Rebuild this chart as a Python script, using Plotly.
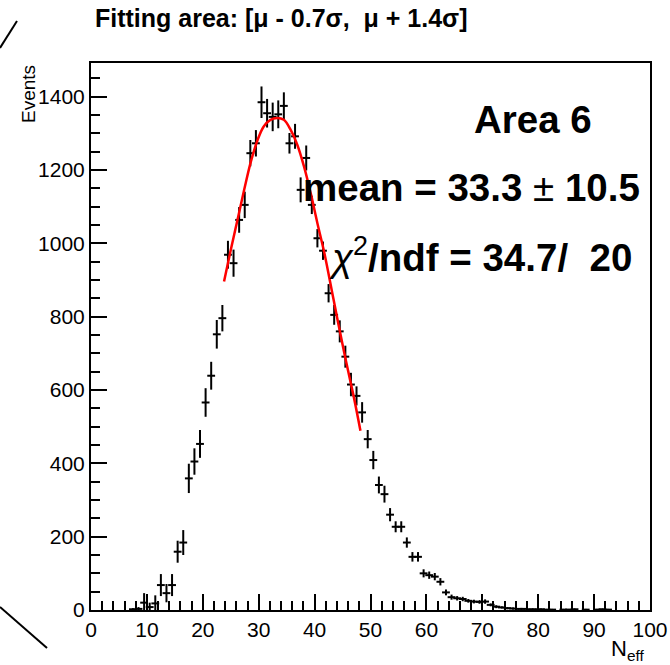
import plotly.graph_objects as go

# ---------------- data ----------------
bin_centers = [7.5, 8.5, 9.5, 10.5, 11.5, 12.5, 13.5, 14.5, 15.5, 16.5,
               17.5, 18.5, 19.5, 20.5, 21.5, 22.5, 23.5, 24.5, 25.5, 26.5,
               27.5, 28.5, 29.5, 30.5, 31.5, 32.5, 33.5, 34.5, 35.5, 36.5,
               37.5, 38.5, 39.5, 40.5, 41.5, 42.5, 43.5, 44.5, 45.5, 46.5,
               47.5, 48.5, 49.5, 50.5, 51.5, 52.5, 53.5, 54.5, 55.5, 56.5,
               57.5, 58.5, 59.5, 60.5, 61.5, 62.5, 63.5, 64.5, 65.5, 66.5,
               67.5, 68.5, 69.5, 70.5, 71.5, 72.5, 73.5, 74.5, 75.5, 76.5,
               77.5, 78.5, 79.5, 80.5, 81.5, 82.5, 84.5, 85.5, 86.5, 88.5,
               90.5, 91.5, 92.5]
events = [2, 3, 20, 8, 18, 68, 46, 68, 159, 184,
          359, 405, 453, 566, 639, 752, 796, 969, 946, 1064,
          1105, 1246, 1273, 1385, 1355, 1345, 1352, 1375, 1273, 1292,
          1146, 1233, 1105, 1014, 980, 864, 805, 760, 691, 615,
          584, 539, 466, 409, 341, 316, 260, 227, 227, 184,
          145, 145, 100, 95, 91, 77, 48, 35, 32, 30,
          25, 23, 22, 23, 14, 9, 7, 5, 4, 3,
          3, 2, 2, 2, 1, 1, 1, 1, 2, 1,
          1, 2, 1]
errors = [3, 5, 26, 12, 22, 30, 25, 30, 30, 34,
          40, 36, 38, 39, 38, 39, 36, 38, 37, 35,
          36, 36, 36, 43, 39, 39, 38, 37, 28, 34,
          34, 34, 25, 25, 25, 25, 27, 30, 30, 32,
          26, 28, 25, 25, 23, 23, 18, 15, 15, 14,
          13, 13, 11, 10, 10, 10, 8, 7, 6, 6,
          5, 5, 5, 6, 4, 4, 3, 3, 3, 2,
          2, 2, 2, 2, 2, 2, 2, 2, 2, 2,
          2, 2, 2]

# fitted curve
fit_x = [23.8, 25.0, 26.2, 27.4, 28.6, 29.8, 30.9, 32.1, 33.3, 34.5,
         35.7, 36.9, 38.1, 39.3, 40.5, 41.7, 43.4, 45.2, 47.0, 48.2]
fit_y = [896, 982, 1064, 1146, 1223, 1282, 1319, 1337, 1342, 1337,
         1310, 1269, 1210, 1137, 1055, 977, 846, 709, 582, 489]

x_ticks = [0, 10, 20, 30, 40, 50, 60, 70, 80, 90, 100]
y_ticks = [0, 200, 400, 600, 800, 1000, 1200, 1400]

title_text = "Fitting area: [\u03bc - 0.7\u03c3,\u00a0 \u03bc + 1.4\u03c3]"
area_text = "<b>Area 6</b>"
mean_text = "<b>mean = 33.3 </b>\u00b1<b> 10.5</b>"
chi_text = "<i>\u03c7</i><sup>2</sup><b>/ndf = 34.7/\u00a0 20</b>"

# ---------------- layout geometry (pixels) ----------------
W, H = 670, 665
L, R, T, B = 91, 650, 63, 610


def px_x(p):
    return (p - L) / (R - L)


def px_y(p):
    return (B - p) / (B - T)


FONT = "Liberation Sans, Arial, sans-serif"

fig = go.Figure()

fig.add_trace(go.Scatter(
    x=bin_centers, y=events, mode="markers",
    marker=dict(size=1, color="black"),
    error_y=dict(type="data", array=errors, visible=True, color="black",
                 thickness=2, width=0),
    error_x=dict(type="constant", value=0.7, visible=True, color="black",
                 thickness=2, width=0),
    showlegend=False, hoverinfo="x+y",
))

fig.add_trace(go.Scatter(
    x=fit_x, y=fit_y, mode="lines",
    line=dict(color="#ff0000", width=2.5, shape="spline"),
    showlegend=False,
))

axis_common = dict(
    showgrid=False, zeroline=False, showline=True, linecolor="black",
    linewidth=2, mirror=True, ticks="inside", tickcolor="black",
    tickwidth=1.5, ticklen=16, automargin=False,
    tickfont=dict(family=FONT, size=21, color="black"),
)

fig.update_xaxes(range=[0, 100], tickmode="array", tickvals=x_ticks,
                 ticktext=[str(v) for v in x_ticks],
                 minor=dict(ticks="inside", ticklen=9, dtick=2,
                            tickcolor="black", tickwidth=1.5, showgrid=False),
                 **axis_common)
fig.update_yaxes(range=[0, 1492], tickmode="array", tickvals=y_ticks,
                 ticktext=[str(v) for v in y_ticks],
                 minor=dict(ticks="inside", ticklen=9, dtick=50,
                            tickcolor="black", tickwidth=1.5, showgrid=False),
                 **axis_common)

annotations = [
    dict(text="<b>" + title_text + "</b>", x=px_x(93), y=px_y(18),
         xanchor="left", yanchor="middle",
         font=dict(family=FONT, size=25, color="black")),
    dict(text="Events", x=px_x(28), y=px_y(63), xanchor="center",
         yanchor="top", textangle=-90,
         font=dict(family=FONT, size=19, color="black")),
    dict(text="N<sub>eff</sub>", x=px_x(646), y=px_y(650), xanchor="right",
         yanchor="middle", font=dict(family=FONT, size=22, color="black")),
    dict(text=area_text, x=px_x(533), y=px_y(119), xanchor="center",
         yanchor="middle", font=dict(family=FONT, size=38.5, color="black")),
    dict(text=mean_text, x=px_x(471), y=px_y(187), xanchor="center",
         yanchor="middle", font=dict(family=FONT, size=38.5, color="black")),
    dict(text=chi_text, x=px_x(480), y=px_y(255), xanchor="center",
         yanchor="middle", font=dict(family=FONT, size=38.5, color="black")),
]
for a in annotations:
    a.update(xref="paper", yref="paper", showarrow=False)

shapes = [
    dict(type="line", xref="paper", yref="paper",
         x0=px_x(0), y0=px_y(48), x1=px_x(17), y1=px_y(21),
         line=dict(color="black", width=2)),
    dict(type="line", xref="paper", yref="paper",
         x0=px_x(0), y0=px_y(607), x1=px_x(47), y1=px_y(648),
         line=dict(color="black", width=2)),
]

fig.update_layout(
    width=W, height=H,
    margin=dict(l=L, r=W - R, t=T, b=H - B, pad=0, autoexpand=False),
    paper_bgcolor="white", plot_bgcolor="white",
    annotations=annotations, shapes=shapes,
    font=dict(family=FONT, color="black"),
)

fig.write_html("out.html")
